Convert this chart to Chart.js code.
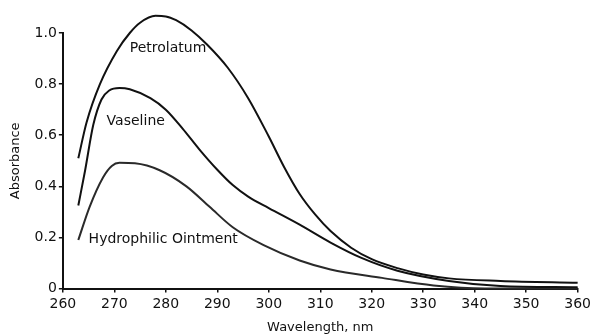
<!DOCTYPE html>
<html>
<head>
<meta charset="utf-8">
<title>Absorbance spectra</title>
<script src="https://cdn.jsdelivr.net/npm/chart.js@4.4.1/dist/chart.umd.min.js"></script>
<style>
  html, body { margin: 0; padding: 0; background: #fff; }
  #wrap { width: 594px; height: 335px; position: relative; }
</style>
</head>
<body>
<div id="wrap"><canvas id="spectra"></canvas></div>
<script>
// wavelength (nm) / absorbance
const petrolatumNm  = [263, 264.6, 267.2, 270.5, 273, 275, 278, 280, 282, 285, 288, 292, 296, 300, 303, 306, 309, 312, 316, 320, 325, 330, 335, 345, 360];
const petrolatumAbs = [0.51, 0.65, 0.80, 0.93, 1.0, 1.04, 1.067, 1.065, 1.05, 1.01, 0.955, 0.865, 0.745, 0.595, 0.475, 0.37, 0.29, 0.225, 0.16, 0.115, 0.08, 0.055, 0.04, 0.03, 0.023];

const vaselineNm  = [263, 264.3, 265.9, 267.5, 269, 271, 273, 277, 280, 283.3, 286.5, 290, 293, 296, 300, 306, 312, 318, 325, 335, 345, 360];
const vaselineAbs = [0.325, 0.46, 0.64, 0.74, 0.775, 0.785, 0.78, 0.745, 0.70, 0.625, 0.545, 0.465, 0.405, 0.36, 0.315, 0.25, 0.18, 0.12, 0.07, 0.03, 0.01, 0.005];

const hydrophilicNm  = [263, 265.2, 267.8, 269.5, 271, 274, 278.8, 284, 288.5, 293, 299, 306, 312, 322, 332, 342, 360];
const hydrophilicAbs = [0.19, 0.32, 0.435, 0.48, 0.492, 0.49, 0.463, 0.40, 0.32, 0.24, 0.17, 0.11, 0.075, 0.042, 0.012, 0.0, 0.0];

const xTicks = [260, 270, 280, 290, 300, 310, 320, 330, 340, 350, 360];
const yTicks = [0, 0.2, 0.4, 0.6, 0.8, 1.0];

// curve labels, anchored in data units (left edge, vertical middle)
const curveLabels = [
  { text: 'Petrolatum', nm: 273, abs: 0.94 },
  { text: 'Vaseline', nm: 268.5, abs: 0.655 },
  { text: 'Hydrophilic Ointment', nm: 265, abs: 0.192 },
];

const FONT = '"DejaVu Sans", "Liberation Sans", sans-serif';
const ink = '#111';

function pts(xs, ys) { return xs.map((x, i) => ({ x: x, y: ys[i] })); }

function curve(label, xs, ys, color) {
  return {
    label: label,
    data: pts(xs, ys),
    borderColor: color,
    borderWidth: 2,
    pointRadius: 0,
    fill: false,
    cubicInterpolationMode: 'monotone',
    clip: false,
  };
}

const labelPlugin = {
  id: 'curveLabels',
  afterDatasetsDraw(chart) {
    const { ctx, scales } = chart;
    ctx.save();
    ctx.fillStyle = ink;
    ctx.font = '14px ' + FONT;
    ctx.textAlign = 'left';
    ctx.textBaseline = 'middle';
    curveLabels.forEach(l => {
      ctx.fillText(l.text, scales.x.getPixelForValue(l.nm), scales.y.getPixelForValue(l.abs));
    });
    ctx.restore();
  }
};

new Chart(document.getElementById('spectra'), {
  type: 'line',
  data: {
    datasets: [
      curve('Petrolatum', petrolatumNm, petrolatumAbs, ink),
      curve('Vaseline', vaselineNm, vaselineAbs, ink),
      curve('Hydrophilic Ointment', hydrophilicNm, hydrophilicAbs, '#2a2a2a'),
    ]
  },
  options: {
    responsive: true,
    maintainAspectRatio: false,
    animation: false,
    layout: { padding: { top: 33, right: 15, left: 4, bottom: 0 } },
    plugins: { legend: { display: false }, tooltip: { enabled: false } },
    scales: {
      x: {
        type: 'linear',
        min: 260, max: 360,
        afterBuildTicks: s => { s.ticks = xTicks.map(v => ({ value: v })); },
        grid: { display: true, drawOnChartArea: false, drawTicks: true, tickLength: 4, color: ink, lineWidth: 1.5 },
        border: { display: true, color: ink, width: 2 },
        ticks: { color: ink, font: { family: FONT, size: 14 }, padding: 3, maxRotation: 0 },
        title: { display: true, text: 'Wavelength, nm', color: ink, font: { family: FONT, size: 13 }, padding: { top: 4, bottom: 0 } }
      },
      y: {
        min: 0, max: 1.0,
        afterBuildTicks: s => { s.ticks = yTicks.map(v => ({ value: v })); },
        grid: { display: true, drawOnChartArea: false, drawTicks: true, tickLength: 4, color: ink, lineWidth: 1.5 },
        border: { display: true, color: ink, width: 2 },
        ticks: { color: ink, font: { family: FONT, size: 14 }, padding: 2, callback: v => v === 0 ? '0' : v.toFixed(1) },
        title: { display: true, text: 'Absorbance', color: ink, font: { family: FONT, size: 13 }, padding: { top: 4, bottom: 9 } }
      }
    }
  },
  plugins: [labelPlugin]
});
</script>
</body>
</html>
